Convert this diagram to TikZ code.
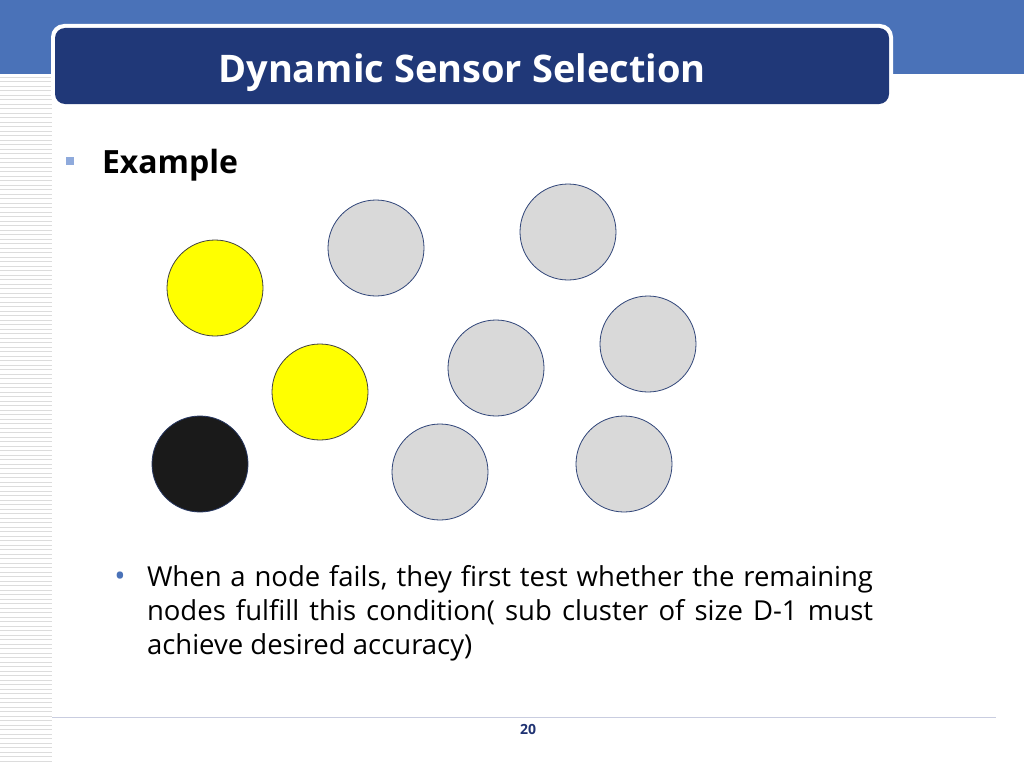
\documentclass[tikz,border=0pt]{standalone}
\usepackage{fontspec}
\setmainfont{Open Sans}
\definecolor{band}{HTML}{4A72B8}
\definecolor{titlebg}{HTML}{203878}
\definecolor{stripe}{HTML}{DCDCDC}
\definecolor{sq}{HTML}{8FAADC}
\definecolor{grayfill}{HTML}{D9D9D9}
\definecolor{grayedge}{HTML}{2F4478}
\definecolor{yel}{HTML}{FFFF00}
\definecolor{blk}{HTML}{1A1A1A}
\definecolor{pagenum}{HTML}{1F3272}
\definecolor{footline}{HTML}{C9CDE0}
\tikzset{
  sensor/.style={circle, minimum size=96pt, inner sep=0pt, line width=0.8pt},
  idle/.style={sensor, fill=grayfill, draw=grayedge},
  active/.style={sensor, fill=yel, draw=black!75},
  failed/.style={sensor, fill=blk, draw=grayedge!80!black},
  txt/.style={inner sep=0pt, outer sep=0pt},
  bodyfont/.style={font=\fontsize{27.5}{34}\selectfont}
}
\begin{document}
\begin{tikzpicture}[x=1pt,y=-1pt]
\useasboundingbox (0,0) rectangle (1024,768);
\fill[white] (0,0) rectangle (1024,768);
% top band
\fill[band] (0,0) rectangle (1024,74);
% left stripes
\foreach \i in {0,...,152} \draw[stripe, line width=1pt] (0,{77+4.5*\i}) -- (52,{77+4.5*\i});
% title box
\fill[white, rounded corners=13pt] (51,24) rectangle (893,108);
\fill[titlebg, rounded corners=10pt] (55,28) rectangle (889,104);
\node[txt, anchor=base, text=white, font=\fontsize{38}{44}\selectfont\bfseries] (title) at (462,82) {Dynamic Sensor Selection};
% bullet + Example
\fill[sq] (66,157) rectangle (74,165);
\node[txt, anchor=base west, font=\fontsize{32}{38}\selectfont\bfseries] (example) at (102,173) {Example};
% sensors
\node[active] (y1) at (215,288) {};
\node[idle]   (g1) at (376,248) {};
\node[idle]   (g2) at (568,232) {};
\node[active] (y2) at (320,392) {};
\node[idle]   (g3) at (496,368) {};
\node[idle]   (g4) at (648,344) {};
\node[failed] (b1) at (200,464) {};
\node[idle]   (g5) at (440,472) {};
\node[idle]   (g6) at (624,464) {};
% bullet text
\node[txt, anchor=base, text=band, font=\fontsize{30}{34}\selectfont] (dot) at (120,586) {•};
\node[txt, anchor=base west, bodyfont] (l1) at (147,586) {\makebox[726pt][s]{When a node fails, they first test whether the remaining}};
\node[txt, anchor=base west, bodyfont] (l2) at (147,620) {\makebox[726pt][s]{nodes fulfill this condition( sub cluster of size D-1 must}};
\node[txt, anchor=base west, bodyfont] (l3) at (147,654) {achieve desired accuracy)};
% footer
\draw[footline, line width=1pt] (52,717) -- (996,717);
\node[txt, text=pagenum, font=\fontsize{14}{16}\selectfont\bfseries] (pg) at (528,729) {20};
\end{tikzpicture}
\end{document}
